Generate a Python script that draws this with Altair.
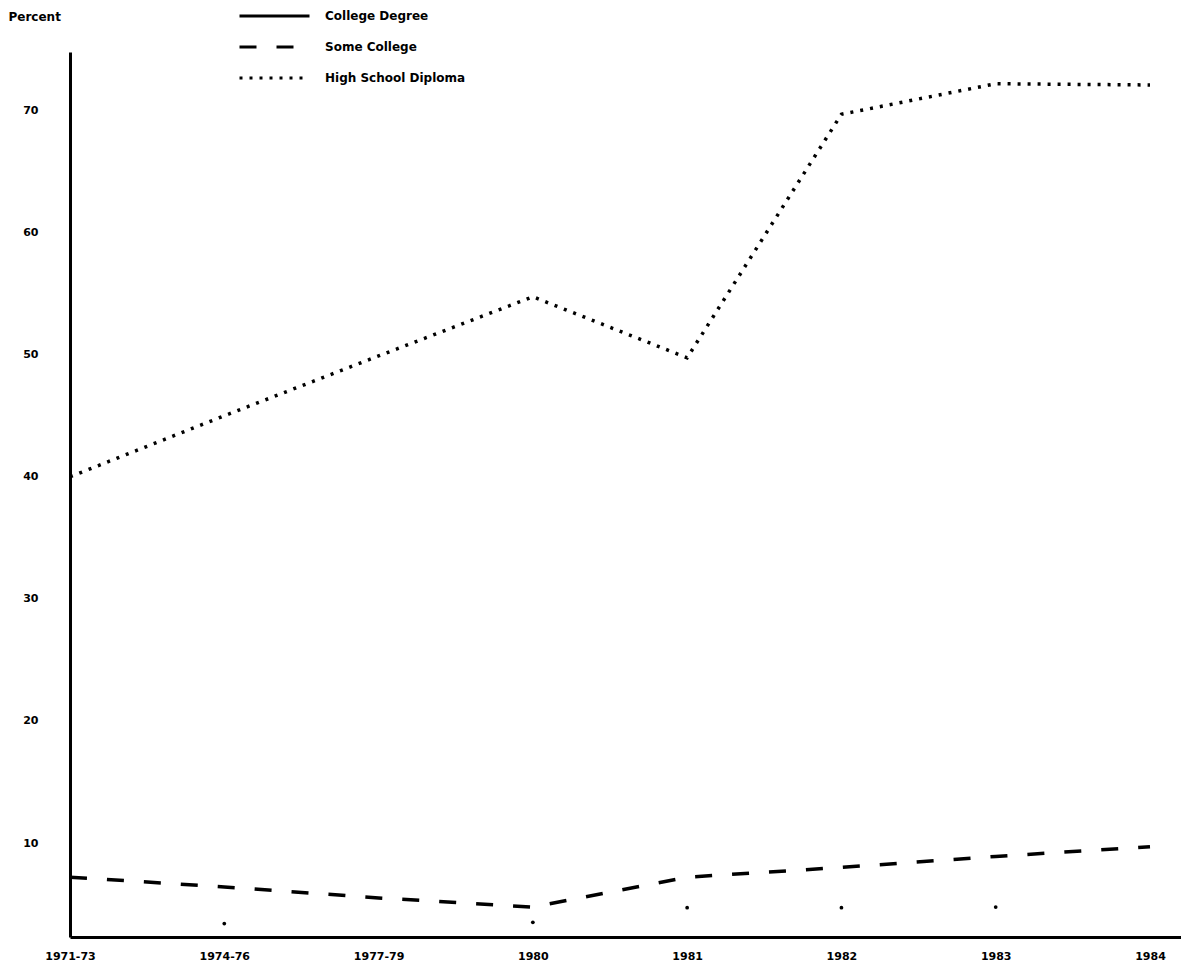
import json
import altair as alt
import pandas as pd

periods = ["1971-73", "1974-76", "1977-79", "1980", "1981", "1982", "1983", "1984"]
high_school = [40.0, 45.0, 49.9, 54.75, 49.75, 69.7, 72.2, 72.1]
some_college = [7.2, 6.4, 5.5, 4.75, 7.2, 8.0, 8.9, 9.7]
college_degree = [None, 3.4, None, 3.5, 4.7, 4.7, 4.75, None]
series = ["College Degree", "Some College", "High School Diploma"]
y_ticks = [10, 20, 30, 40, 50, 60, 70]

rows = []
for i, p in enumerate(periods):
    rows.append({"idx": i, "period": p, "series": series[1], "value": some_college[i]})
    rows.append({"idx": i, "period": p, "series": series[2], "value": high_school[i]})
lines_df = pd.DataFrame(rows)

pts_df = pd.DataFrame(
    [{"idx": i, "period": p, "series": series[0], "value": v}
     for i, (p, v) in enumerate(zip(periods, college_degree)) if v is not None]
)

FONT = "DejaVu Sans"
label_expr = json.dumps(periods) + "[datum.value]"
PLOT_W = 1111

x_enc = alt.X(
    "idx:Q",
    scale=alt.Scale(domain=[0, 7 * PLOT_W / 1080], nice=False, zero=False),
    axis=alt.Axis(
        title=None, values=list(range(len(periods))), labelExpr=label_expr,
        grid=False, ticks=False, domainWidth=3, domainColor="black",
        labelPadding=13, labelFontSize=11, labelFont=FONT, labelFontWeight="bold",
        labelColor="black", labelAlign="center",
    ),
)
y_enc = alt.Y(
    "value:Q",
    scale=alt.Scale(domain=[2.3, 74.8], nice=False, zero=False),
    axis=alt.Axis(
        title="Percent", titleAngle=0, titleX=-62, titleY=-36, titleAlign="left",
        titleBaseline="middle", titleFont=FONT, titleFontSize=12, titleFontWeight="bold",
        titleColor="black",
        values=y_ticks, grid=False, ticks=False, domainWidth=3, domainColor="black",
        labelPadding=32, labelFontSize=11, labelFont=FONT, labelFontWeight="bold",
        labelColor="black",
    ),
)

lines = alt.Chart(lines_df).mark_line(color="black", strokeWidth=3.5).encode(
    x=x_enc,
    y=y_enc,
    strokeDash=alt.StrokeDash(
        "series:N",
        scale=alt.Scale(domain=series, range=[[1, 0], [17, 20], [3, 7]]),
        legend=alt.Legend(
            orient="none", legendX=168, legendY=-46, title=None, padding=0,
            symbolType="stroke", symbolSize=4900, symbolStrokeWidth=3,
            symbolStrokeColor="black", clipHeight=20, rowPadding=11,
            labelOffset=14, labelFont=FONT, labelFontSize=12, labelFontWeight="bold",
            labelColor="black",
        ),
    ),
    detail="series:N",
)

points = alt.Chart(pts_df).mark_circle(color="black", size=14, opacity=1).encode(
    x="idx:Q",
    y="value:Q",
)

chart = alt.layer(lines, points).properties(
    width=PLOT_W,
    height=885,
    autosize=alt.AutoSizeParams(type="none"),
    padding={"left": 62, "top": 44, "right": 0, "bottom": 27},
    background="white",
).configure_view(stroke=None)

chart.save("out.html", embed_options={"renderer": "svg", "actions": False})
